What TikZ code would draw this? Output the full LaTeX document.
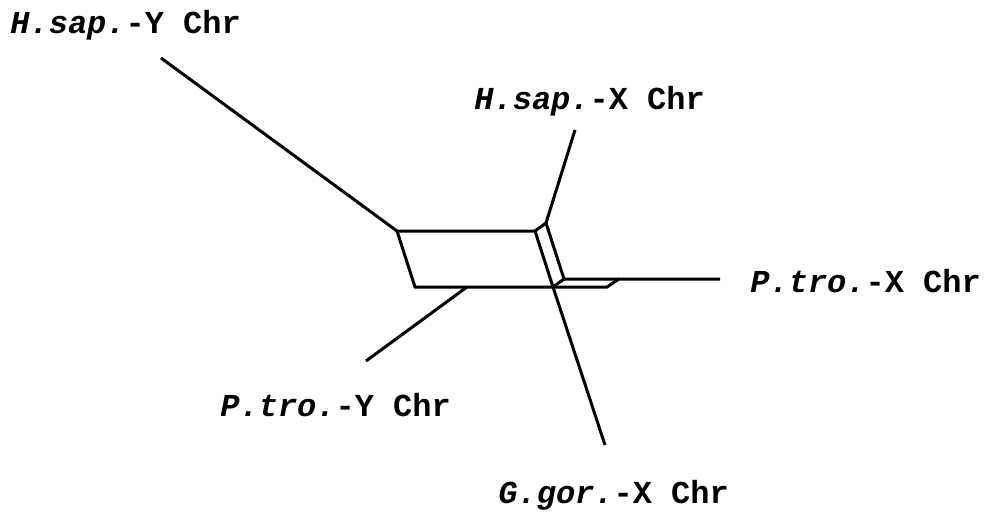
\documentclass[tikz,border=0pt]{standalone}
\usepackage{fontspec}
\setmonofont{Liberation Mono}
\usetikzlibrary{positioning}

\begin{document}
\begin{tikzpicture}[x=0.5pt, y=-0.5pt, font=\fontsize{16}{19}\selectfont\ttfamily\bfseries,
          taxon/.style={inner sep=0pt, anchor=base west},
          edge/.style={line width=1.5pt, line join=miter, line cap=butt}]
        \useasboundingbox (0,0) rectangle (984,514);

        % labels
        \node [taxon] (hy) at (10,33) {\textit{H.sap.}-Y Chr};
        \node [taxon] (hx) at (474,109) {\textit{H.sap.}-X Chr};
        \node [taxon] (px) at (750,292) {\textit{P.tro.}-X Chr};
        \node [taxon] (py) at (220,416) {\textit{P.tro.}-Y Chr};
        \node [taxon] (gx) at (498,503) {\textit{G.gor.}-X Chr};

        % branch tips
        \coordinate (thy) at (161,58);
        \coordinate (thx) at (575,130);
        \coordinate (tpx) at (720,279);
        \coordinate (tpy) at (366,361);
        \coordinate (tgx) at (605,445);

        % network points
        \coordinate (a) at (397,231);
        \coordinate (b) at (535,231);
        \coordinate (c) at (546,223);
        \coordinate (d) at (564,279);
        \coordinate (e) at (553,287);
        \coordinate (f) at (415,287);
        \coordinate (g) at (467,287);
        \coordinate (j) at (607,287);
        \coordinate (k) at (619,279);

        \draw [edge] (thy) -- (a) -- (b) -- (c) -- (thx);
        \draw [edge] (a) -- (f) -- (g) -- (e) -- (j) -- (k) -- (tpx);
        \draw [edge] (c) -- (d) -- (k);
        \draw [edge] (b) -- (e) -- (tgx);
        \draw [edge] (d) -- (e);
        \draw [edge] (g) -- (tpy);
      \end{tikzpicture}
\end{document}
